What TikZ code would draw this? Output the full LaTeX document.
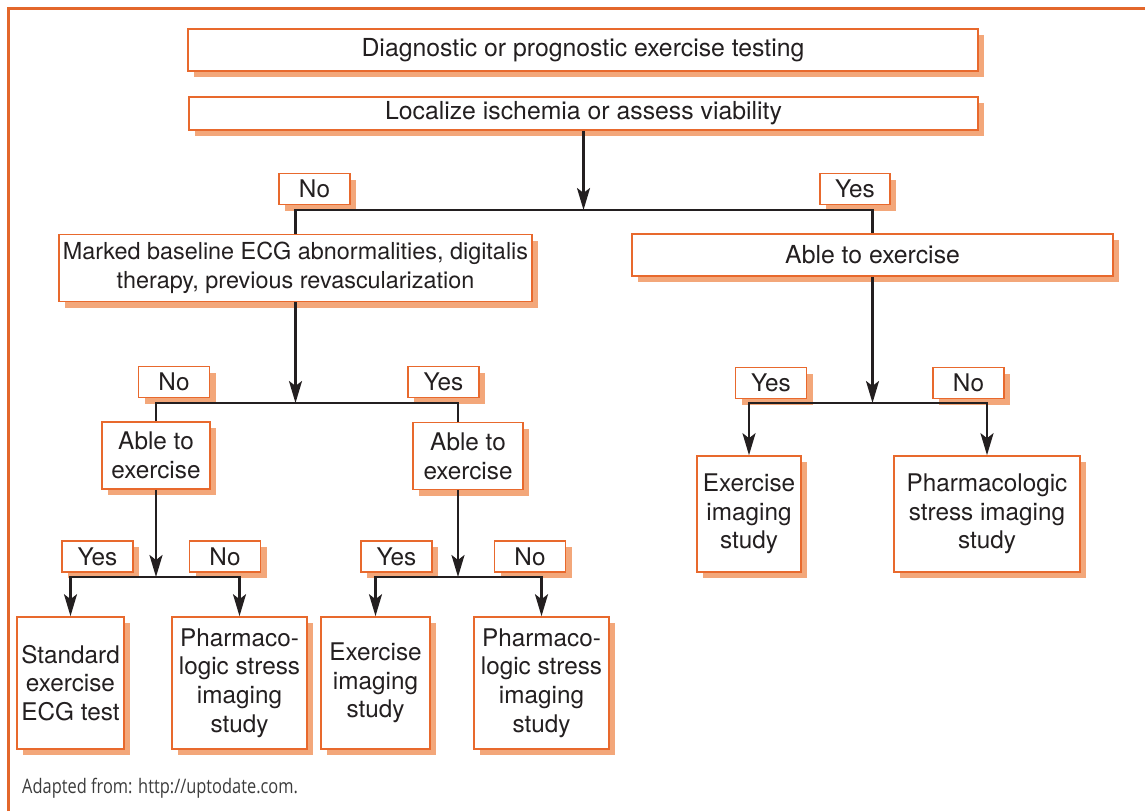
\documentclass[tikz,border=0pt]{standalone}
\usepackage{fontspec}
\setmainfont{TeX Gyre Heros}
\newfontfamily\notefont{Open Sans}[FakeStretch=0.82]
\usepackage{tikz}
\usetikzlibrary{arrows.meta}
\usetikzlibrary{shadows}
\usetikzlibrary{positioning}
\definecolor{boxorange}{HTML}{E8692D}
\definecolor{shadoworange}{HTML}{F3A77A}
\definecolor{frameorange}{HTML}{E3672B}
\definecolor{linegray}{HTML}{231F20}
\definecolor{notegray}{HTML}{3C3C3C}
\tikzstyle{block} = [draw=boxorange, line width=1.6pt, fill=white, rectangle,
inner sep=0pt, align=center, text=linegray,
font=\fontsize{24.3}{28.7}\selectfont,
drop shadow={shadow xshift=6pt, shadow yshift=-6pt, fill=shadoworange, opacity=1}]
\tikzstyle{wide} = [block, font=\fontsize{24.8}{28.7}\selectfont]
\tikzstyle{answer} = [block, minimum width=71pt, minimum height=31pt]
\tikzstyle{point} = [coordinate]
\tikzstyle{link} = [draw=linegray, line width=2.5pt]

\begin{document}
\begin{tikzpicture}[x=1pt, y=-1pt, >={Stealth[length=22pt,width=13pt,inset=5pt]}]
	\useasboundingbox (0,0) rectangle (1145,811);
	\draw [frameorange, line width=3pt] (8,811) -- (8,8) -- (1145,8);
	
	\node [wide, minimum width=790pt, minimum height=42pt] (diag) at (583,50) {Diagnostic or prognostic exercise testing};
	\node [wide, minimum width=789pt, minimum height=33pt] (localize) at (583.5,113.5) {Localize ischemia or assess viability};
	
	\node [block, minimum width=473pt, minimum height=67pt, font=\fontsize{23.4}{28.5}\selectfont] (baseline) at (295.5,268) {Marked baseline ECG abnormalities, digitalis\\therapy, previous revascularization};
	\node [wide, minimum width=481pt, minimum height=42pt] (ableA) at (872.5,255) {Able to exercise};
	
	\node [block, minimum width=108pt, minimum height=67pt] (ableL) at (156,455.5) {Able to\\exercise};
	\node [block, minimum width=110pt, minimum height=67pt] (ableR) at (468,456) {Able to\\exercise};
	
	\node [block, minimum width=107pt, minimum height=132pt] (stdECG) at (70.5,683) {Standard\\exercise\\ECG test};
	\node [block, minimum width=135pt, minimum height=132pt] (pharmL) at (239.5,683) {Pharmaco-\\logic stress\\imaging\\study};
	\node [block, minimum width=109pt, minimum height=132pt] (exerM) at (375.5,683) {Exercise\\imaging\\study};
	\node [block, minimum width=135pt, minimum height=132pt] (pharmM) at (541.5,683) {Pharmaco-\\logic stress\\imaging\\study};
	
	\node [block, minimum width=104pt, minimum height=116pt] (exerR) at (749,514) {Exercise\\imaging\\study};
	\node [block, minimum width=186pt, minimum height=116pt] (pharmR) at (987,514) {Pharmacologic\\stress imaging\\study};
	
	% yes / no tags
	\node [answer] (no1) at (314.5,189) {No};
	\node [answer, minimum width=70pt] (yes1) at (855,189) {Yes};
	\node [answer] (no2) at (174,382) {No};
	\node [answer] (yes2) at (443.5,382) {Yes};
	\node [answer] (yes3) at (97.5,556.5) {Yes};
	\node [answer] (no3) at (225,556.5) {No};
	\node [answer] (yes4) at (396.5,556.5) {Yes};
	\node [answer] (no4) at (530,556.5) {No};
	\node [answer] (yes5) at (771,383) {Yes};
	\node [answer] (no5) at (968.5,383) {No};
	
	\node [point] (j1) at (583.5,210) {};
	\node [point] (j2) at (295.5,403) {};
	\node [point] (j3) at (156,577) {};
	\node [point] (j4) at (458,577) {};
	\node [point] (j5) at (872.5,403) {};
	
	\draw [link, ->] (localize) -- (j1);
	\draw [link] (baseline.north) |- (j1) -| (ableA.north);
	
	\draw [link, ->] (baseline) -- (j2);
	\draw [link] (ableL.north) |- (j2) -| ([xshift=-10pt]ableR.north);
	
	\draw [link, ->] (ableL) -- (j3);
	\draw [link, ->] (j3) -| (stdECG.north);
	\draw [link, ->] (j3) -| (pharmL.north);
	
	\draw [link, ->] ([xshift=-10pt]ableR.south) -- (j4);
	\draw [link, ->] (j4) -| (exerM.north);
	\draw [link, ->] (j4) -| (pharmM.north);
	
	\draw [link, ->] (ableA) -- (j5);
	\draw [link, ->] (j5) -| (exerR.north);
	\draw [link, ->] (j5) -| (pharmR.north);
	
	\node [anchor=west, text=notegray, inner sep=0pt] (source) at (22,788) {\notefont\fontsize{20}{24}\selectfont Adapted from: http://uptodate.com.};
\end{tikzpicture}
\end{document}
